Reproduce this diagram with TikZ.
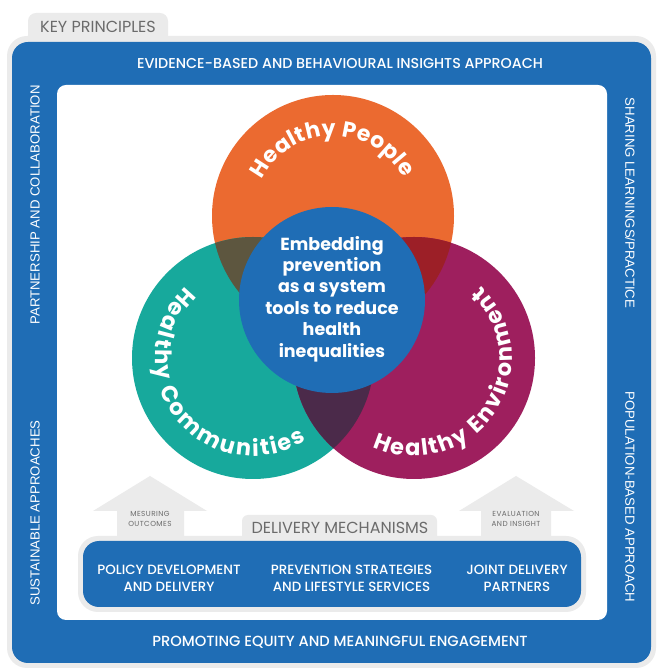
\documentclass[tikz,border=0pt]{standalone}
\usepackage{fontspec}
\setmainfont{Poppins}
\newfontfamily\medfont{Poppins Medium}
\newfontfamily\sidefont{Liberation Sans}
\usetikzlibrary{decorations.text}
\definecolor{frame}{HTML}{1F6DB5}
\definecolor{panel}{HTML}{EBEBEB}
\definecolor{label}{HTML}{6B6B6B}
\definecolor{people}{HTML}{EB6A30}
\definecolor{commun}{HTML}{17A99C}
\definecolor{enviro}{HTML}{9E1F5E}
\definecolor{peoplecommun}{HTML}{5D563F}
\definecolor{peopleenviro}{HTML}{9C1F27}
\definecolor{communenviro}{HTML}{4B2A4A}

\begin{document}
\begin{tikzpicture}[x=1pt,y=1pt,
  bandtext/.style={text=white,font=\medfont\fontsize{14.3}{16}\selectfont},
  sidetext/.style={text=white,font=\sidefont\fontsize{13.2}{15}\selectfont},
  greytext/.style={text=label,font=\fontsize{16}{18}\selectfont},
  arrowtext/.style={text=label,font=\addfontfeature{LetterSpace=6}\fontsize{7.3}{9.5}\selectfont,align=center},
  boxtext/.style={text=white,font=\medfont\fontsize{13.4}{17}\selectfont,align=center},
  arcword/.style={decorate,decoration={text along path,text align=fit to path,text color=white}}]
  \useasboundingbox (0,0) rectangle (660,672);
  % key principles frame
  \fill[panel,rounded corners=8] (28,620) rectangle (168,659);
  \fill[panel,rounded corners=20] (7,4) rectangle (656,636);
  \fill[frame,rounded corners=16] (12,9) rectangle (651,630);
  \fill[white,rounded corners=9] (57,52) rectangle (607,587);
  \node[greytext] (keyp) at (98,645) {KEY PRINCIPLES};
  \node[bandtext] (evid) at (340,608) {EVIDENCE-BASED AND BEHAVIOURAL INSIGHTS APPROACH};
  \node[bandtext,font=\medfont\fontsize{14.7}{16}\selectfont] (equity) at (340,30) {PROMOTING EQUITY AND MEANINGFUL ENGAGEMENT};
  \node[sidetext,rotate=90] (partner) at (35,467) {PARTNERSHIP AND COLLABORATION};
  \node[sidetext,rotate=90] (sustain) at (35,159) {SUSTAINABLE APPROACHES};
  \node[sidetext,rotate=-90] (sharing) at (630,469) {SHARING LEARNINGS/PRACTICE};
  \node[sidetext,rotate=-90] (popul) at (630,175) {POPULATION-BASED APPROACH};

  % three circles and their overlaps
  \coordinate (ppl) at (333,456);
  \coordinate (com) at (253,314);
  \coordinate (env) at (414,314);
  \coordinate (hub) at (332,372);
  \fill[people] (ppl) circle[radius=121];
  \fill[commun] (com) circle[radius=121];
  \fill[enviro] (env) circle[radius=121];
  \begin{scope}
    \clip (ppl) circle[radius=121];
    \fill[peoplecommun] (com) circle[radius=121];
    \fill[peopleenviro] (env) circle[radius=121];
  \end{scope}
  \begin{scope}
    \clip (com) circle[radius=121];
    \fill[communenviro] (env) circle[radius=121];
  \end{scope}
  \fill[frame] (hub) circle[radius=93];
  \node[align=center,text=white,font=\bfseries\fontsize{17.5}{21.4}\selectfont] (hubtext) at (332,373)
    {Embedding\\prevention\\as a system\\tools to reduce\\health\\inequalities};
  \path[arcword,decoration={text={|\bfseries\fontsize{22}{22}\selectfont|Healthy People}}]
    ([shift={(153:80)}]ppl) arc[start angle=153,end angle=28,radius=80];
  \path[arcword,decoration={text={|\bfseries\fontsize{22.5}{22.5}\selectfont|Healthy Communities}}]
    ([shift={(133:98)}]com) arc[start angle=133,end angle=303,radius=98];
  \path[arcword,decoration={text={|\bfseries\fontsize{22.5}{22.5}\selectfont|Healthy Environment}}]
    ([shift={(245:98)}]env) arc[start angle=245,end angle=407,radius=98];

  % delivery mechanisms
  \fill[panel] (117,132) -- (117,161) -- (93,161) -- (150,196) -- (207,161) -- (184,161) -- (184,132) -- cycle;
  \fill[panel] (481,132) -- (481,161) -- (459,161) -- (516,196) -- (574,161) -- (551,161) -- (551,132) -- cycle;
  \node[arrowtext] (measure) at (150,153) {MESURING\\OUTCOMES};
  \node[arrowtext] (evalu) at (516,153) {EVALUATION\\AND INSIGHT};
  \fill[panel,rounded corners=6] (242,120) rectangle (437,157);
  \fill[panel,rounded corners=20] (78,60) rectangle (586,136);
  \fill[frame,rounded corners=16] (83,65) rectangle (581,131);
  \node[greytext] (deliv) at (340,144) {DELIVERY MECHANISMS};
  \node[boxtext] (policy) at (169,93.5) {POLICY DEVELOPMENT\\AND DELIVERY};
  \node[boxtext] (prevent) at (351.5,93.5) {PREVENTION STRATEGIES\\AND LIFESTYLE SERVICES};
  \node[boxtext] (joint) at (517,93.5) {JOINT DELIVERY\\PARTNERS};
\end{tikzpicture}
\end{document}
